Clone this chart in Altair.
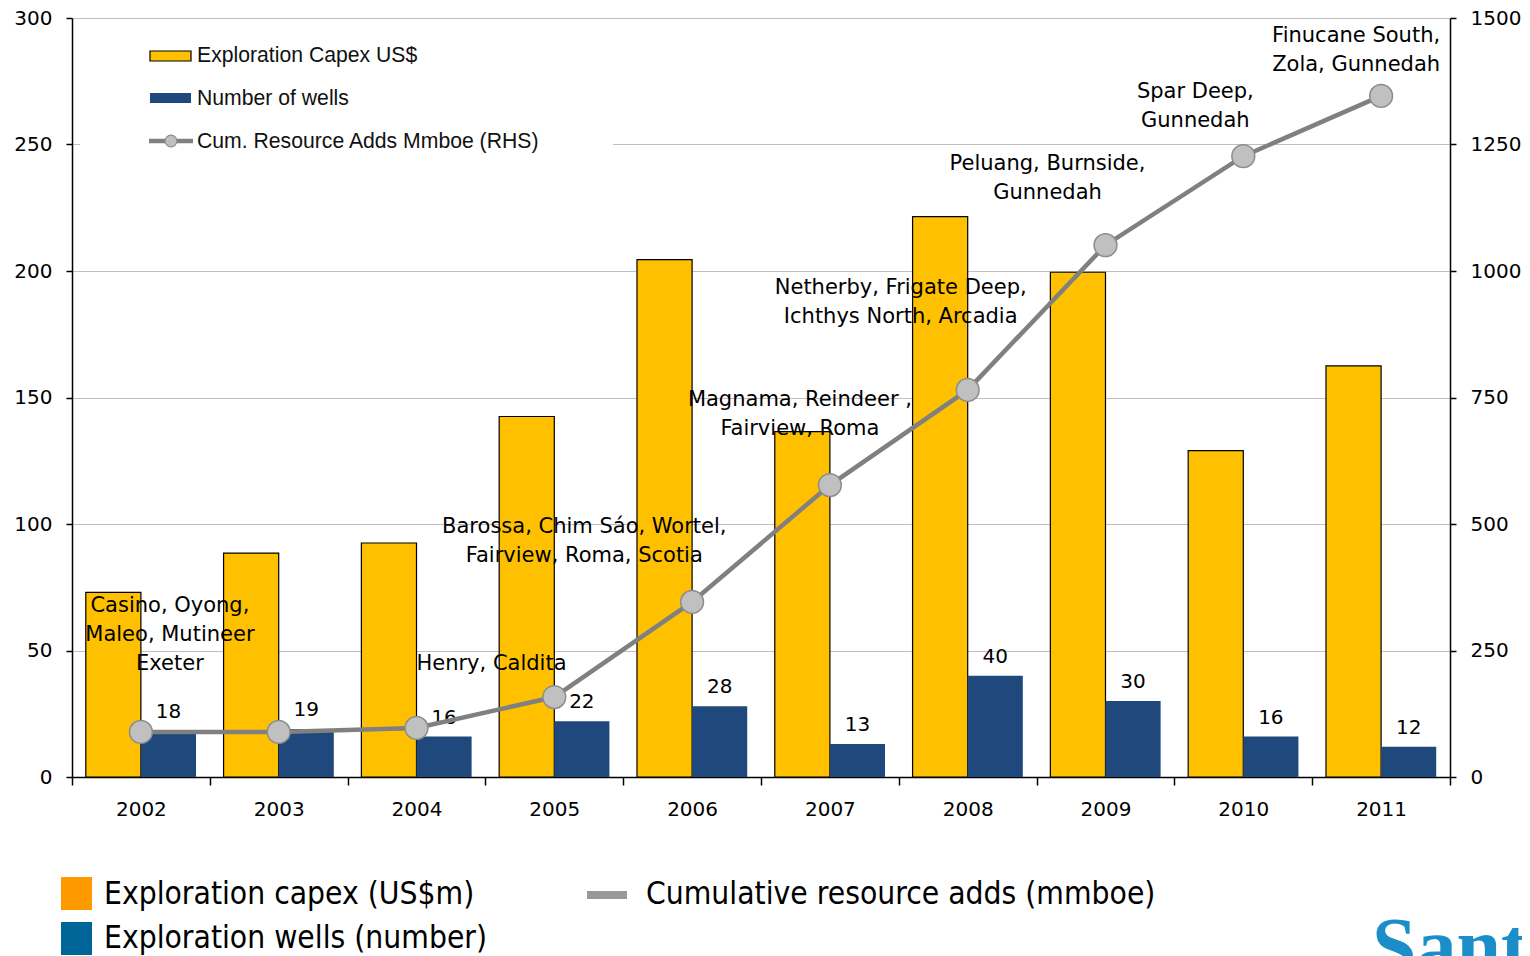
import altair as alt
import pandas as pd

# ---------------- data ----------------
years = ["2002", "2003", "2004", "2005", "2006", "2007", "2008", "2009", "2010", "2011"]
capex = [73, 88.5, 92.5, 142.5, 204.5, 136.5, 221.5, 199.5, 129, 162.5]
wells = [18, 19, 16, 22, 28, 13, 40, 30, 16, 12]
cum_adds = [89, 89, 97, 158, 346, 577, 765, 1051, 1227, 1346]

ann_years = ["2002", "2004", "2005", "2007", "2008", "2009", "2010", "2011"]
ann_texts = [
    "Casino, Oyong,\nMaleo, Mutineer\nExeter",
    "Henry, Caldita",
    "Barossa, Chim Sáo, Wortel,\nFairview, Roma, Scotia",
    "Magnama, Reindeer ,\nFairview, Roma",
    "Netherby, Frigate Deep,\nIchthys North, Arcadia",
    "Peluang, Burnside,\nGunnedah",
    "Spar Deep,\nGunnedah",
    "Finucane South,\nZola, Gunnedah",
]
ann_top = [360, 245, 516, 767, 988, 1233, 1375, 1486]  # RHS units, top of text block
ann_dx = [29, 75, 30, -30, -67, -58, -48, -25]

legend_top_labels = ["Exploration Capex US$", "Number of wells", "Cum. Resource Adds Mmboe (RHS)"]
legend_bottom_labels = ["Exploration capex (US$m)", "Exploration wells (number)",
                        "Cumulative resource adds (mmboe)"]

# ---------------- tables ----------------
bars_df = pd.DataFrame(
    {"year": years * 2,
     "series": ["capex"] * len(years) + ["wells"] * len(years),
     "value": capex + wells}
)
line_df = pd.DataFrame({"year": years, "cum": cum_adds})
one = pd.DataFrame({"a": [0]})

W, H = 1378, 759
FONT = "DejaVu Sans"

x_enc = alt.X(
    "year:N",
    sort=years,
    scale=alt.Scale(paddingInner=0, paddingOuter=0),
    axis=alt.Axis(title=None, labelAngle=0, tickBand="extent", tickSize=8, tickColor="black",
                  tickWidth=1.5, domainColor="black", domainWidth=1.5, labelFontSize=20,
                  labelFont=FONT, labelColor="black", labelPadding=14),
)
xoff = alt.XOffset("series:N", scale=alt.Scale(domain=["capex", "wells"], paddingInner=0,
                                               paddingOuter=0.25))
y_left = alt.Y(
    "value:Q",
    scale=alt.Scale(domain=[0, 300], nice=False),
    axis=alt.Axis(title=None, values=list(range(0, 301, 50)), grid=True, gridColor="#C0C0C0",
                  gridWidth=1, domainColor="black", domainWidth=1.5, tickColor="black",
                  tickWidth=1.5, tickSize=6, labelFontSize=20, labelFont=FONT,
                  labelColor="black", labelPadding=14),
)

base = alt.Chart(bars_df)
capex_bars = base.transform_filter(alt.datum.series == "capex").mark_bar(
    color="#FFC000", stroke="black", strokeWidth=1.2
).encode(x=x_enc, xOffset=xoff, y=y_left)
wells_bars = base.transform_filter(alt.datum.series == "wells").mark_bar(
    color="#1F497D"
).encode(x=x_enc, xOffset=xoff, y=y_left)
wells_labels = base.transform_filter(alt.datum.series == "wells").mark_text(
    baseline="bottom", dy=-9, fontSize=20, font=FONT, color="black"
).encode(x=x_enc, xOffset=xoff, y=y_left, text="value:Q")

# top-left legend (layout overlay)
leg = alt.Chart(one)
leg_bg = leg.mark_rect(color="white").encode(
    x=alt.value(8), x2=alt.value(541), y=alt.value(12), y2=alt.value(142))
leg_r1 = leg.mark_rect(color="#FFC000", stroke="black", strokeWidth=1.2).encode(
    x=alt.value(78), x2=alt.value(119), y=alt.value(33), y2=alt.value(43))
leg_r2 = leg.mark_rect(color="#1F497D").encode(
    x=alt.value(78), x2=alt.value(119), y=alt.value(75), y2=alt.value(85))
leg_l3 = leg.mark_rule(color="#808080", strokeWidth=4.5).encode(
    x=alt.value(77), x2=alt.value(121), y=alt.value(123))
leg_p3 = leg.mark_point(filled=True, size=140, fill="#C0C0C0", stroke="#8C8C8C",
                        strokeWidth=1.2, opacity=1).encode(x=alt.value(99), y=alt.value(123))
leg_texts = []
for i, lab in enumerate(legend_top_labels):
    leg_texts.append(
        alt.Chart(pd.DataFrame({"t": [lab]})).mark_text(
            align="left", baseline="middle", fontSize=21.2, font="Liberation Sans",
            color="#111111").encode(x=alt.value(125), y=alt.value([38, 81, 124][i]), text="t:N")
    )

# bottom legend (layout overlay)
BFONT = "DejaVu Sans Condensed, Liberation Sans Narrow, Liberation Sans"
bl_r1 = leg.mark_rect(color="#FF9900").encode(
    x=alt.value(-11), x2=alt.value(20), y=alt.value(859), y2=alt.value(892))
bl_r2 = leg.mark_rect(color="#006699").encode(
    x=alt.value(-11), x2=alt.value(20), y=alt.value(904), y2=alt.value(937))
bl_r3 = leg.mark_rect(color="#999999").encode(
    x=alt.value(515), x2=alt.value(555), y=alt.value(873), y2=alt.value(881))
bl_texts = []
for lab, xx, yy in zip(legend_bottom_labels, [32, 32, 574], [877, 921, 877]):
    bl_texts.append(
        alt.Chart(pd.DataFrame({"t": [lab]})).mark_text(
            align="left", baseline="middle", fontSize=31.5, font=BFONT, color="black"
        ).encode(x=alt.value(xx), y=alt.value(yy), text="t:N")
    )
logo = alt.Chart(pd.DataFrame({"t": ["Santos"]})).mark_text(
    align="left", baseline="alphabetic", fontSize=80, font="Liberation Serif",
    fontWeight="bold", color="#1B8DC9").encode(x=alt.value(1300), y=alt.value(955), text="t:N")

left = alt.layer(leg_bg, capex_bars, wells_bars, wells_labels, leg_r1, leg_r2, leg_l3, leg_p3,
                 *leg_texts, bl_r1, bl_r2, bl_r3, *bl_texts, logo)

# right-hand series
y_right = alt.Y(
    "cum:Q",
    scale=alt.Scale(domain=[0, 1500], nice=False),
    axis=alt.Axis(title=None, orient="right", values=list(range(0, 1501, 250)), format="d",
                  grid=False, domainColor="black", domainWidth=1.5, tickColor="black",
                  tickWidth=1.5, tickSize=6, labelFontSize=20, labelFont=FONT,
                  labelColor="black", labelPadding=14),
)
lc = alt.Chart(line_df)
line = lc.mark_line(color="#808080", strokeWidth=4.5).encode(x=x_enc, y=y_right)
pts = lc.mark_point(filled=True, size=520, fill="#C0C0C0", stroke="#8C8C8C", strokeWidth=1.5,
                    opacity=1).encode(x=x_enc, y=y_right)

ann_layers = []
for yr, txt, top, dx in zip(ann_years, ann_texts, ann_top, ann_dx):
    ann_layers.append(
        alt.Chart(pd.DataFrame({"year": [yr], "cum": [top], "t": [txt]})).mark_text(
            align="center", baseline="top", fontSize=21, font=FONT, color="black",
            lineBreak="\n", lineHeight=29, dx=dx
        ).encode(x=x_enc, y=y_right, text="t:N")
    )

right = alt.layer(line, pts, *ann_layers)

chart = alt.layer(left, right).resolve_scale(y="independent").properties(
    width=W, height=H, autosize="none",
    padding={"left": 64, "top": 10, "right": 72, "bottom": 179},
    background="white",
).configure_view(stroke=None)

chart.save("out.html", embed_options={"renderer": "svg", "actions": False})
